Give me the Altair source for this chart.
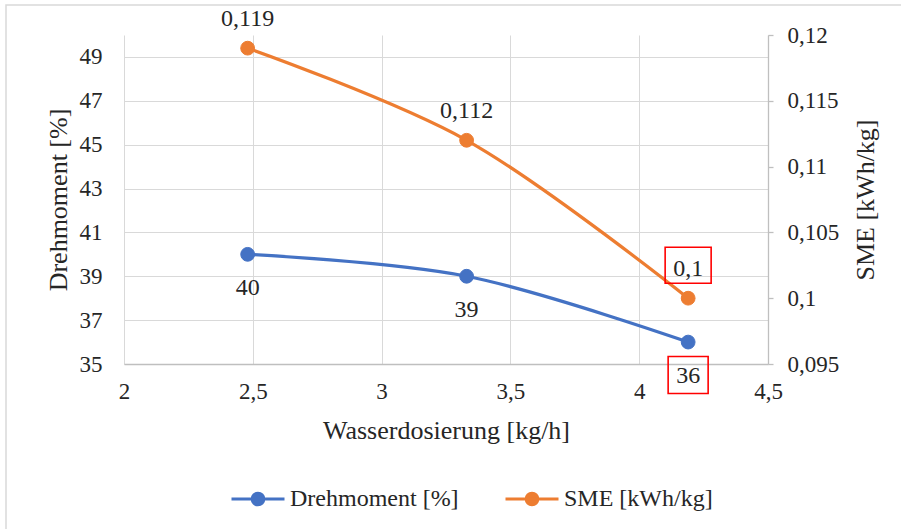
import altair as alt
import pandas as pd

# ---- data ----
water = [2.48, 3.33, 4.19]                 # Wasserdosierung [kg/h]
torque = [40, 39, 36]                      # Drehmoment [%]
sme = [0.119, 0.112, 0.1]                  # SME [kWh/kg]
series_names = ["Drehmoment [%]", "SME [kWh/kg]"]
series_colors = ["#4472C4", "#ED7D31"]
x_ticks = [2, 2.5, 3, 3.5, 4, 4.5]
left_ticks = [35, 37, 39, 41, 43, 45, 47, 49]
right_ticks = [0.095, 0.1, 0.105, 0.11, 0.115, 0.12]
highlight_x = [4.19]

rows = []
for xv, v in zip(water, torque):
    rows.append({"x": xv, "series": series_names[0], "value": v})
for xv, v in zip(water, sme):
    rows.append({"x": xv, "series": series_names[1], "value": v})
df = pd.DataFrame(rows)
df["hl"] = df["x"].isin(highlight_x)

FONT = "Liberation Serif"
TXT = "#262626"
GRID = "#D9D9D9"
AXIS = "#BFBFBF"
COMMA = "replace(toString(datum.value), '.', ',')"

cscale = alt.Scale(domain=series_names, range=series_colors)
LEG_PATH = "M-1,0L1,0M0.22,0A0.22,0.22,0,1,1,-0.22,0A0.22,0.22,0,1,1,0.22,0Z"
legend = alt.Legend(
    title=None, orient="none", legendX=106, legendY=436, direction="horizontal",
    symbolType=LEG_PATH, symbolSize=2809, symbolStrokeWidth=3, symbolOpacity=1,
    labelFont=FONT, labelFontSize=24, labelColor=TXT, labelOffset=4,
    columnPadding=40, labelLimit=400,
)

xenc = alt.X(
    "x:Q",
    scale=alt.Scale(domain=[2, 4.5], nice=False, zero=False),
    axis=alt.Axis(
        values=x_ticks, labelExpr=COMMA, title="Wasserdosierung [kg/h]",
        grid=True, gridColor=GRID, domainColor=AXIS, domainWidth=1.3, ticks=False,
        labelFont=FONT, labelFontSize=23, labelColor=TXT, labelPadding=16,
        titleFont=FONT, titleFontSize=26, titleFontWeight="normal", titleColor=TXT,
        titlePadding=14, labelFlush=False,
    ),
)

yleft = alt.Y(
    "value:Q",
    scale=alt.Scale(domain=[35, 50], nice=False, zero=False),
    axis=alt.Axis(
        orient="left", values=left_ticks, title="Drehmoment [%]",
        grid=True, gridColor=GRID, domain=False, ticks=False,
        labelFont=FONT, labelFontSize=23, labelColor=TXT, labelPadding=22,
        titleFont=FONT, titleFontSize=26, titleFontWeight="normal", titleColor=TXT,
        titlePadding=8,
    ),
)

yright = alt.Y(
    "value:Q",
    scale=alt.Scale(domain=[0.095, 0.12], nice=False, zero=False),
    axis=alt.Axis(
        orient="right", values=right_ticks, labelExpr=COMMA, title="SME [kWh/kg]",
        grid=False, domain=True, domainColor=AXIS, domainWidth=1.3,
        ticks=True, tickColor=AXIS, tickSize=5, tickWidth=1.3,
        labelFont=FONT, labelFontSize=23, labelColor=TXT, labelPadding=14,
        titleFont=FONT, titleFontSize=26, titleFontWeight="normal", titleColor=TXT,
        titlePadding=40, titleAngle=270,
    ),
)

def series_layer(idx, yenc, label_dy, box_path, box_size, box_offset):
    name = series_names[idx]
    base = alt.Chart(df).transform_filter(alt.datum.series == name).transform_calculate(
        label=COMMA
    )
    line = base.mark_line(
        interpolate="catmull-rom", strokeWidth=3.2, stroke=series_colors[idx]
    ).encode(x=xenc, y=yenc)
    pts = base.mark_point(filled=True, size=190, opacity=1, strokeWidth=1).encode(
        x=xenc, y=yenc,
        fill=alt.Fill("series:N", scale=cscale, legend=legend),
        stroke=alt.Stroke("series:N", scale=cscale, legend=legend),
    )
    txt = base.mark_text(font=FONT, fontSize=24, color=TXT, dy=label_dy).encode(
        x=xenc, y=yenc, text="label:N"
    )
    box = base.transform_filter(alt.datum.hl).mark_point(
        shape=box_path, size=box_size, filled=False, stroke="#FF0000",
        strokeWidth=1.6, opacity=1, yOffset=box_offset,
    ).encode(x=xenc, y=yenc)
    return alt.layer(line, pts, txt, box)

left = series_layer(0, yleft, 34, "M-1,-0.925L1,-0.925L1,0.925L-1,0.925Z", 1600, 33)
right = series_layer(1, yright, -29, "M-1,-0.783L1,-0.783L1,0.783L-1,0.783Z", 2116, -33)

frame = alt.Chart(pd.DataFrame({"f": [0]})).mark_rect(
    fill=None, stroke="#D9D9D9", strokeWidth=1.5
).encode(
    x=alt.value(-118), x2=alt.value(1000), y=alt.value(-30), y2=alt.value(700)
)

chart = alt.layer(frame, left, right).resolve_scale(y="independent").properties(
    width=644, height=329,
    padding={"left": 124, "top": 35, "right": 133, "bottom": 165},
    autosize=alt.AutoSizeParams(type="none"),
    background="white",
).configure_view(stroke=None)

chart.save("out.html", embed_options={"renderer": "svg", "actions": False})
